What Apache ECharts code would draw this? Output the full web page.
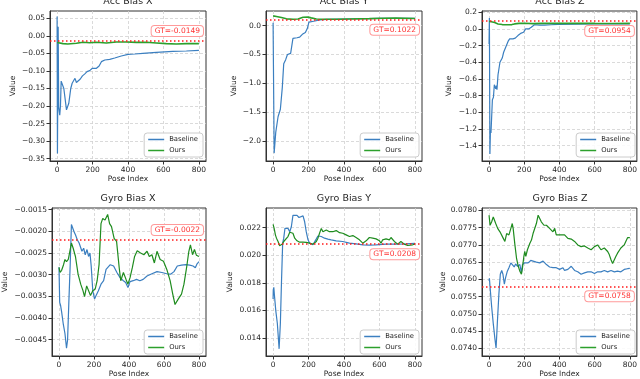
<!DOCTYPE html>
<html>
<head>
<meta charset="utf-8">
<title>Bias estimates</title>
<script src="https://cdn.jsdelivr.net/npm/echarts@6/dist/echarts.min.js"></script>
<style>
  html, body { margin: 0; background: #fff; }
  #main { width: 640px; height: 379px; }
</style>
</head>
<body>
<div id="main"></div>
<script>
// ---- data ----
var titles = ['Acc Bias X', 'Acc Bias Y', 'Acc Bias Z', 'Gyro Bias X', 'Gyro Bias Y', 'Gyro Bias Z'];
var gtValues = [-0.0149, 0.1022, 0.0954, -0.0022, 0.0208, 0.0758];
var gtLabels = ['GT=-0.0149', 'GT=0.1022', 'GT=0.0954', 'GT=-0.0022', 'GT=0.0208', 'GT=0.0758'];
var xTicks = [0, 200, 400, 600, 800];
var yTicks = [
  [-0.35, -0.30, -0.25, -0.20, -0.15, -0.10, -0.05, 0.00, 0.05],
  [-2.0, -1.5, -1.0, -0.5, 0.0],
  [-1.4, -1.2, -1.0, -0.8, -0.6, -0.4, -0.2, 0.0, 0.2],
  [-0.0045, -0.0040, -0.0035, -0.0030, -0.0025, -0.0020, -0.0015],
  [0.014, 0.016, 0.018, 0.020, 0.022],
  [0.0740, 0.0745, 0.0750, 0.0755, 0.0760, 0.0765, 0.0770, 0.0775, 0.0780]
];
var yDecimals = [2, 1, 1, 4, 3, 4];
var yMin = [-0.3567, -2.347, -1.585, -0.00488, 0.01269, 0.07378];
var yMax = [0.0709, 0.254, 0.215, -0.00146, 0.02343, 0.07807];

var accXBase = [[0,0.055],[2,-0.335],[6,0.026],[9,-0.202],[15,-0.226],[19,-0.2],[23,-0.129],[30,-0.133],[34,-0.131],[38,-0.15],[53,-0.211],[66,-0.192],[71,-0.173],[77,-0.15],[85,-0.135],[94,-0.13],[101,-0.121],[105,-0.118],[109,-0.133],[118,-0.13],[131,-0.123],[143,-0.114],[155,-0.109],[169,-0.102],[184,-0.099],[199,-0.0925],[222,-0.0925],[237,-0.086],[250,-0.0735],[269,-0.0688],[297,-0.0669],[325,-0.0631],[362,-0.0574],[400,-0.0526],[438,-0.0517],[484,-0.0498],[560,-0.0469],[653,-0.0441],[729,-0.0431],[800,-0.0412]];
var accXOurs = [[0,-0.019],[34,-0.022],[60,-0.023],[109,-0.021],[146,-0.0184],[184,-0.0194],[222,-0.0184],[278,-0.0203],[334,-0.0175],[391,-0.0175],[447,-0.0184],[503,-0.0184],[560,-0.0203],[616,-0.0222],[672,-0.0232],[729,-0.0222],[800,-0.0222]];

var accYBase = [[0,0.05],[6,-2.21],[15,-1.85],[28,-1.58],[41,-1.45],[52,-1.07],[60,-0.66],[66,-0.63],[71,-0.59],[81,-0.5],[99,-0.48],[112,-0.22],[135,-0.21],[150,-0.2],[165,-0.15],[182,-0.12],[193,-0.05],[202,0.06],[210,0.08],[236,0.08],[262,0.1],[300,0.11],[400,0.115],[500,0.12],[600,0.125],[700,0.125],[800,0.125]];
var accYOurs = [[0,0.17],[19,0.158],[47,0.14],[75,0.118],[113,0.11],[141,0.115],[169,0.145],[197,0.148],[215,0.135],[244,0.116],[281,0.11],[356,0.11],[431,0.115],[543,0.121],[618,0.127],[693,0.13],[800,0.125]];

var accZBase = [[0,-0.18],[2,0.13],[5,-1.5],[8,-1.22],[11,-1.25],[19,-0.85],[25,-0.82],[30,-0.67],[38,-0.72],[42,-0.68],[45,-0.73],[51,-0.55],[62,-0.4],[70,-0.38],[75,-0.35],[83,-0.28],[92,-0.26],[108,-0.15],[117,-0.12],[136,-0.12],[149,-0.11],[164,-0.08],[174,-0.07],[183,-0.05],[196,-0.04],[208,0.0],[225,0.0],[240,0.02],[249,0.04],[258,0.05],[287,0.045],[315,0.045],[353,0.05],[391,0.055],[500,0.058],[600,0.06],[700,0.06],[800,0.06]];
var accZOurs = [[0,0.09],[13,0.085],[32,0.076],[51,0.06],[75,0.052],[100,0.05],[130,0.052],[145,0.06],[170,0.066],[200,0.068],[250,0.064],[300,0.066],[400,0.066],[500,0.068],[600,0.066],[700,0.065],[800,0.066]];

var gyroXBase = [[0,-0.00283],[4,-0.00364],[9,-0.00371],[15,-0.00386],[24,-0.00413],[34,-0.00436],[43,-0.00470],[49,-0.00451],[56,-0.00367],[64,-0.00277],[71,-0.00184],[77,-0.00182],[86,-0.00201],[94,-0.00208],[105,-0.00220],[115,-0.00227],[124,-0.00231],[131,-0.00246],[141,-0.00239],[150,-0.00254],[160,-0.00242],[169,-0.00258],[177,-0.00250],[184,-0.00280],[193,-0.00337],[203,-0.00356],[212,-0.00348],[225,-0.00337],[240,-0.00322],[255,-0.00314],[269,-0.00288],[278,-0.00292],[293,-0.00277],[312,-0.00280],[331,-0.00295],[349,-0.00307],[368,-0.00314],[381,-0.00318],[394,-0.00330],[406,-0.00316],[424,-0.00314],[443,-0.00311],[462,-0.00314],[481,-0.00311],[503,-0.00303],[531,-0.00298],[560,-0.00293],[588,-0.00295],[616,-0.00298],[638,-0.00299],[657,-0.00293],[676,-0.00280],[700,-0.00278],[725,-0.00277],[747,-0.00278],[766,-0.00280],[779,-0.00284],[789,-0.00275],[800,-0.00270]];
var gyroXOurs = [[0,-0.00283],[6,-0.00295],[15,-0.00290],[26,-0.00277],[34,-0.00265],[43,-0.00270],[53,-0.00265],[62,-0.00246],[71,-0.00227],[81,-0.00239],[94,-0.00258],[109,-0.00299],[124,-0.00322],[137,-0.00337],[146,-0.00351],[158,-0.00326],[169,-0.00330],[180,-0.00348],[193,-0.00337],[207,-0.00333],[218,-0.00314],[229,-0.00277],[240,-0.00182],[250,-0.00170],[263,-0.00174],[278,-0.00161],[289,-0.00182],[300,-0.00189],[315,-0.00216],[329,-0.00223],[344,-0.00284],[353,-0.00314],[368,-0.00295],[383,-0.00311],[394,-0.00322],[406,-0.00307],[419,-0.00284],[432,-0.00258],[447,-0.00245],[466,-0.00250],[485,-0.00254],[503,-0.00246],[516,-0.00258],[531,-0.00254],[545,-0.00273],[560,-0.00246],[578,-0.00265],[597,-0.00269],[616,-0.00288],[635,-0.00314],[650,-0.00345],[663,-0.00369],[682,-0.00356],[700,-0.00345],[714,-0.00322],[729,-0.00284],[742,-0.00246],[751,-0.00231],[763,-0.00254],[774,-0.00242],[785,-0.00255],[800,-0.00258]];

var gyroYBase = [[0,0.01683],[1,0.01748],[4,0.01767],[7,0.01719],[15,0.0160],[24,0.01505],[34,0.01321],[41,0.01505],[47,0.0179],[54,0.02088],[60,0.02124],[67,0.02195],[75,0.02207],[84,0.02195],[94,0.02171],[103,0.02207],[112,0.0229],[122,0.02302],[135,0.0229],[146,0.02274],[154,0.02279],[169,0.02286],[178,0.02243],[187,0.02171],[197,0.02112],[206,0.02088],[215,0.02083],[225,0.02076],[234,0.02088],[244,0.02119],[253,0.0214],[272,0.02136],[290,0.02124],[309,0.02117],[328,0.02112],[356,0.02105],[393,0.021],[431,0.02088],[468,0.02083],[506,0.02076],[543,0.02074],[581,0.02076],[637,0.02081],[693,0.02081],[749,0.02083],[800,0.02086]];
var gyroYOurs = [[0,0.02224],[6,0.02195],[13,0.02148],[19,0.02124],[28,0.021],[37,0.02069],[43,0.02064],[52,0.02081],[60,0.021],[71,0.02112],[84,0.02136],[94,0.02167],[103,0.02176],[112,0.0216],[122,0.02124],[135,0.02105],[150,0.02095],[169,0.02095],[187,0.02093],[206,0.02088],[225,0.02081],[234,0.02076],[244,0.021],[253,0.02124],[262,0.0216],[272,0.02195],[281,0.02171],[300,0.02183],[318,0.02171],[337,0.02171],[356,0.02179],[375,0.02164],[393,0.0216],[412,0.02148],[431,0.02136],[450,0.02143],[468,0.02129],[487,0.02112],[496,0.021],[506,0.02088],[515,0.02088],[525,0.02105],[543,0.02129],[562,0.02124],[581,0.02119],[600,0.02105],[609,0.02088],[618,0.02112],[637,0.02119],[656,0.02112],[665,0.02129],[674,0.02124],[684,0.021],[703,0.02081],[721,0.021],[740,0.02081],[759,0.02071],[768,0.02081],[787,0.02076],[800,0.02081]];

var gyroZBase = [[0,0.07596],[2,0.07603],[6,0.07577],[15,0.0752],[24,0.07472],[34,0.07425],[40,0.07401],[47,0.07472],[56,0.07558],[64,0.07615],[72,0.07626],[79,0.07615],[87,0.07586],[94,0.07605],[104,0.07624],[113,0.07634],[124,0.07648],[132,0.07651],[143,0.07636],[151,0.07645],[162,0.07638],[175,0.07643],[184,0.07619],[190,0.07643],[203,0.07648],[222,0.07648],[237,0.07655],[250,0.07653],[269,0.0765],[288,0.07648],[307,0.07653],[326,0.07643],[344,0.07636],[363,0.07634],[382,0.07634],[401,0.07629],[420,0.07634],[429,0.07626],[448,0.07629],[467,0.07638],[486,0.07626],[504,0.07622],[523,0.07615],[542,0.07619],[561,0.07622],[580,0.07622],[599,0.07617],[617,0.07622],[636,0.07622],[655,0.07626],[674,0.07622],[693,0.07626],[712,0.07622],[730,0.07624],[749,0.07622],[768,0.07629],[787,0.07631],[800,0.07632]];
var gyroZOurs = [[0,0.07786],[6,0.07757],[15,0.07767],[24,0.07781],[30,0.07776],[38,0.07762],[49,0.07748],[62,0.07738],[72,0.07733],[81,0.07719],[90,0.0771],[100,0.07733],[113,0.07729],[124,0.07748],[132,0.07762],[137,0.07748],[147,0.077],[156,0.07662],[166,0.07638],[175,0.07624],[184,0.07615],[190,0.07634],[198,0.07667],[203,0.07681],[209,0.07667],[218,0.07686],[232,0.07705],[241,0.07714],[250,0.07733],[260,0.07738],[269,0.07762],[279,0.07786],[288,0.07781],[297,0.07767],[312,0.07757],[326,0.07757],[344,0.07748],[363,0.07738],[373,0.07748],[382,0.07729],[392,0.07731],[410,0.07729],[429,0.07729],[448,0.07719],[467,0.07717],[486,0.0771],[504,0.077],[523,0.07695],[542,0.07697],[561,0.07691],[580,0.07686],[599,0.07695],[617,0.077],[636,0.07686],[655,0.07691],[674,0.07681],[683,0.07672],[693,0.07657],[702,0.07646],[712,0.07648],[721,0.07667],[730,0.07676],[740,0.07681],[749,0.07691],[768,0.077],[777,0.0771],[787,0.07721],[800,0.07721]];

var baseline = [accXBase, accYBase, accZBase, gyroXBase, gyroYBase, gyroZBase];
var ours = [accXOurs, accYOurs, accZOurs, gyroXOurs, gyroYOurs, gyroZOurs];

// ---- layout ----
var W = 640, H = 379;
var cellLeft = [50, 266, 482, 50, 266, 482];
var cellTop = [11, 11, 11, 208, 208, 208];
var cellW = 156, cellH = 150;
var nameGaps = [33, 28, 29, 43, 32, 33];
var gtAbove = [true, false, false, true, false, false];
var font = 'DejaVu Sans';
var txt = '#262626';
var blue = '#3b7fc0';
var greens = ['#2ca02c', '#2ca02c', '#2ca02c', '#1f8c1f', '#1f8c1f', '#1f8c1f'];

var grids = [], xAxes = [], yAxes = [], series = [], titleList = [], legends = [];

for (var i = 0; i < 6; i++) {
  grids.push({
    left: cellLeft[i], top: cellTop[i], width: cellW, height: cellH,
    show: true, borderColor: '#333', borderWidth: 1, backgroundColor: 'transparent'
  });
  xAxes.push({
    type: 'value', gridIndex: i, min: -40, max: 840,
    minInterval: 200, maxInterval: 200,
    name: 'Pose Index', nameLocation: 'middle', nameGap: 14,
    nameTextStyle: { fontFamily: font, fontSize: 7.5, color: txt },
    axisLine: { show: true, onZero: false, lineStyle: { color: '#333', width: 1 } },
    axisTick: { show: true, length: 3.5, customValues: xTicks, lineStyle: { color: '#333' } },
    axisLabel: {
      fontFamily: font, fontSize: 7.5, color: txt, margin: 5,
      customValues: xTicks, showMinLabel: true, showMaxLabel: true
    },
    splitLine: { show: true, lineStyle: { color: '#d0d0d0', type: [3, 2], width: 0.8 } }
  });
  (function (d) {
    yAxes.push({
      type: 'value', gridIndex: i, min: yMin[i], max: yMax[i],
      name: 'Value', nameLocation: 'middle', nameGap: nameGaps[i], nameRotate: 90,
      nameTextStyle: { fontFamily: font, fontSize: 7.5, color: txt },
      axisLine: { show: true, onZero: false, lineStyle: { color: '#333', width: 1 } },
      axisTick: { show: true, length: 3.5, customValues: yTicks[i], lineStyle: { color: '#333' } },
      axisLabel: {
        fontFamily: font, fontSize: 7.5, color: txt, margin: 5,
        customValues: yTicks[i],
        formatter: function (v) { return v.toFixed(d).replace('-', '\u2212'); }
      },
      splitLine: { show: true, lineStyle: { color: '#d0d0d0', type: [3, 2], width: 0.8 } }
    });
  })(yDecimals[i]);

  series.push({
    name: 'Baseline', type: 'line', xAxisIndex: i, yAxisIndex: i,
    data: baseline[i], symbol: 'none', smooth: false,
    lineStyle: { color: blue, width: 1.2 }, itemStyle: { color: blue },
    z: 2,
    markLine: {
      silent: true, symbol: ['none', 'none'], animation: false, precision: 6,
      lineStyle: { color: '#ff1a1a', type: [1.5, 2.5], width: 1.5 },
      label: {
        show: true, position: gtAbove[i] ? 'insideEndTop' : 'insideEndBottom',
        formatter: gtLabels[i], color: '#ff3333', fontFamily: font, fontSize: 7.5,
        backgroundColor: '#fff', borderColor: '#ff9a9a', borderWidth: 1, borderRadius: 3,
        padding: [1, 3, 1, 3], distance: [3, 5]
      },
      data: [{ yAxis: gtValues[i] }]
    }
  });
  series.push({
    name: 'Ours', type: 'line', xAxisIndex: i, yAxisIndex: i,
    data: ours[i], symbol: 'none',
    lineStyle: { color: greens[i], width: i < 3 ? 1.6 : 1.2 }, itemStyle: { color: greens[i] },
    z: 3
  });

  titleList.push({
    text: titles[i], left: cellLeft[i] + cellW / 2, top: i < 3 ? -3 : 194, textAlign: 'center', padding: 0,
    textStyle: { fontFamily: font, fontSize: 9.5, fontWeight: 'normal', color: txt }
  });
  legends.push({
    data: ['Baseline', 'Ours'], orient: 'vertical', icon: 'rect',
    right: W - (cellLeft[i] + cellW) + 3, bottom: H - (cellTop[i] + cellH) + 4,
    itemWidth: 16, itemHeight: 1.5, itemGap: 4, padding: [3, 5, 3, 4],
    backgroundColor: 'rgba(255,255,255,0.85)', borderColor: '#cccccc', borderWidth: 1, borderRadius: 3,
    textStyle: { fontFamily: font, fontSize: 6.8, color: txt },
    selectedMode: false
  });
}

var chart = echarts.init(document.getElementById('main'));
chart.setOption({
  animation: false,
  backgroundColor: '#fff',
  title: titleList,
  legend: legends,
  grid: grids,
  xAxis: xAxes,
  yAxis: yAxes,
  series: series
});
</script>
</body>
</html>
